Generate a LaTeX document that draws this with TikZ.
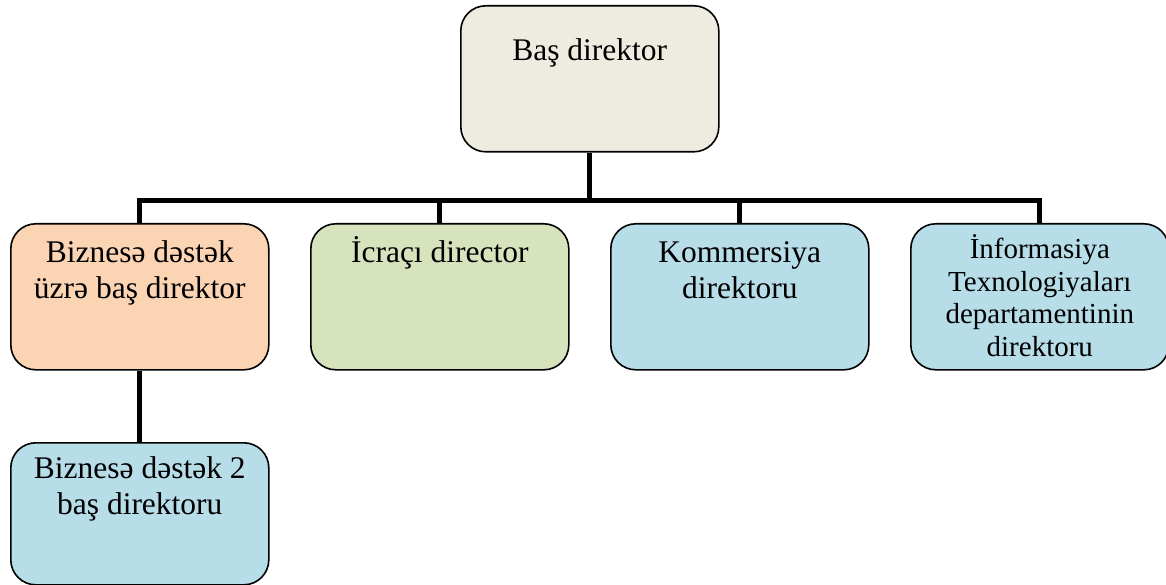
\documentclass[tikz,border=0pt]{standalone}
\usepackage{fontspec}
\setmainfont{Liberation Serif}
\newcommand{\orgtext}[3][146pt]{\parbox[c][#1][t]{250pt}{\centering\rule{0pt}{#2}#3}}

\begin{document}
\begin{tikzpicture}[x=1pt,y=-1pt,
    orgbox/.style={draw,line width=1.6pt,rounded corners=25pt,inner sep=0pt,
      minimum width=258pt,minimum height=146pt,anchor=north west,
      font=\fontsize{31.5}{36}\selectfont},
    conn/.style={line width=5pt}]
  \useasboundingbox (0,0) rectangle (1166,585);
  \definecolor{beige}{HTML}{EEECE1}
  \definecolor{peach}{HTML}{FBD4B4}
  \definecolor{olive}{HTML}{D6E3BC}
  \definecolor{aqua}{HTML}{B7DDE8}
  \node[orgbox,fill=beige] (top) at (460,5) {\orgtext{55pt}{Baş direktor}};
  \node[orgbox,fill=peach] (bdus) at (10,223) {\orgtext{39pt}{Biznesə dəstək\\ üzrə baş direktor}};
  \node[orgbox,fill=olive] (icra) at (310,223) {\orgtext{39pt}{İcraçı director}};
  \node[orgbox,fill=aqua] (komm) at (610,223) {\orgtext{39pt}{Kommersiya\\ direktoru}};
  \node[orgbox,fill=aqua,font=\fontsize{29}{32.5}\selectfont] (info) at (910,223)
    {\orgtext{35pt}{İnformasiya\\ Texnologiyaları\\ departamentinin\\ direktoru}};
  \node[orgbox,fill=aqua,minimum height=142pt] (bd2) at (10,442) {\orgtext[142pt]{36pt}{Biznesə dəstək 2\\ baş direktoru}};
  % connectors
  \draw[conn] (top.south) -- ++(0,48) coordinate (bus);
  \draw[conn] (bdus.north) |- (bus) -| (info.north);
  \draw[conn] (icra.north) -- (icra.north |- bus);
  \draw[conn] (komm.north) -- (komm.north |- bus);
  \draw[conn] (bdus.south) -- (bd2.north);
\end{tikzpicture}
\end{document}
